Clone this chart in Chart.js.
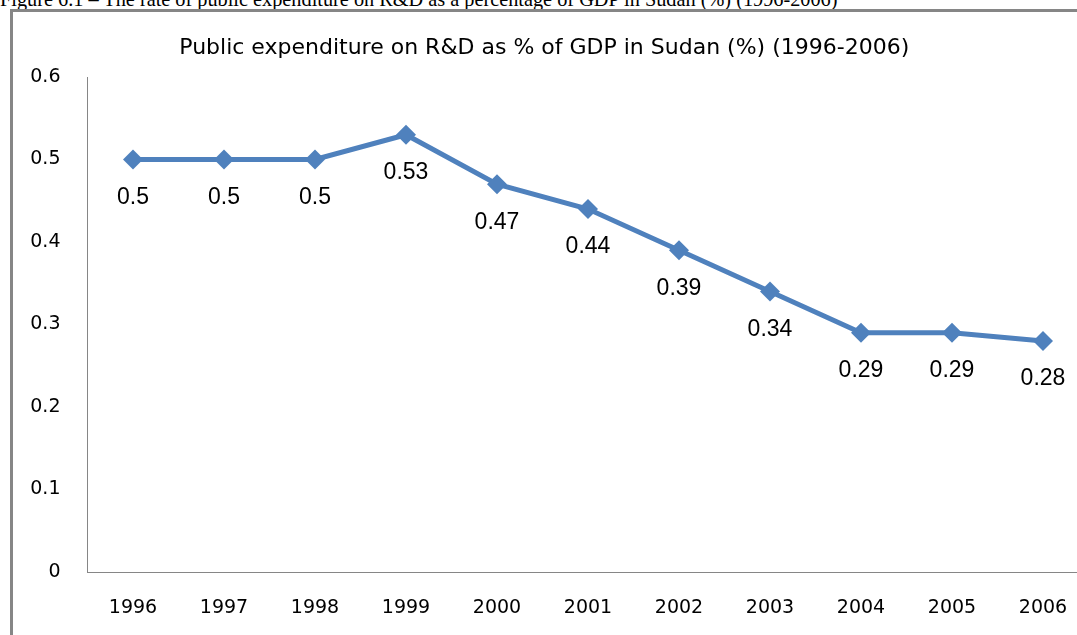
<!DOCTYPE html>
<html>
<head>
<meta charset="utf-8">
<script src="https://cdn.jsdelivr.net/npm/chart.js@4"></script>
<style>
  html, body { margin: 0; padding: 0; background: #fff; overflow: hidden; width: 1077px; height: 635px; }
  #caption { position: absolute; left: 0; top: -11px; font: 20.3px "Liberation Serif", "Times New Roman", serif; line-height: 20px; white-space: nowrap; color: #000; }
  #frame { position: absolute; left: 10px; top: 9px; width: 1200px; height: 800px; border: 3px solid #868686; }
  #wrap { position: absolute; left: 0; top: 0; width: 1100px; height: 635px; }
</style>
</head>
<body>
<div id="caption">Figure 6.1 – The rate of public expenditure on R&amp;D as a percentage of GDP in Sudan (%) (1996-2006)</div>
<div id="frame"></div>
<div id="wrap"><canvas id="chart" width="1100" height="635"></canvas></div>
<script>
// Gasto público en I+D como % del PIB en Sudán
var years = ['1996', '1997', '1998', '1999', '2000', '2001', '2002', '2003', '2004', '2005', '2006'];
var values = [0.5, 0.5, 0.5, 0.53, 0.47, 0.44, 0.39, 0.34, 0.29, 0.29, 0.28];
var yTicks = ['0', '0.1', '0.2', '0.3', '0.4', '0.5', '0.6'];

var tickFont = { family: '"DejaVu Sans", sans-serif', size: 19 };

// etiquetas de valor debajo de cada punto
var pointLabels = {
  id: 'pointLabels',
  afterDatasetsDraw: function(chart) {
    var ctx = chart.ctx;
    var meta = chart.getDatasetMeta(0);
    ctx.save();
    ctx.font = '23px "Liberation Sans", Arial, sans-serif';
    ctx.fillStyle = '#000';
    ctx.textAlign = 'center';
    ctx.textBaseline = 'middle';
    meta.data.forEach(function(pt, i) {
      ctx.fillText(String(values[i]), pt.x, pt.y + 38);
    });
    ctx.restore();
  }
};

document.addEventListener('DOMContentLoaded', function() {
  var ctx = document.getElementById('chart');
  new Chart(ctx, {
    type: 'line',
    data: {
      labels: years,
      datasets: [{
        data: values,
        borderColor: '#4F81BD',
        backgroundColor: '#4F81BD',
        borderWidth: 5,
        tension: 0,
        pointStyle: 'rectRot',
        pointRadius: 10,
        pointBorderWidth: 0
      }]
    },
    options: {
      responsive: false,
      animation: false,
      layout: { padding: { left: 0, right: 11.5, top: 0, bottom: 0 } },
      plugins: {
        legend: { display: false },
        tooltip: { enabled: false },
        title: {
          display: true,
          text: 'Public expenditure on R&D as % of GDP in Sudan (%) (1996-2006)',
          color: '#000',
          font: { family: '"DejaVu Sans", sans-serif', size: 22, weight: 'normal' },
          padding: { top: 35, bottom: 15.6 }
        }
      },
      scales: {
        x: {
          offset: true,
          grid: { display: false, drawTicks: false },
          border: { display: true, color: '#868686', width: 1 },
          ticks: { color: '#000', font: tickFont, padding: 25, maxRotation: 0 },
          afterFit: function(scale) { scale.height = 63; }
        },
        y: {
          min: 0,
          max: 0.6,
          grid: { display: false, drawTicks: false },
          border: { display: true, color: '#868686', width: 1 },
          ticks: {
            color: '#000',
            font: tickFont,
            padding: 27,
            stepSize: 0.1,
            callback: function(v, i) { return yTicks[i]; }
          },
          afterFit: function(scale) { scale.width = 87.5; }
        }
      }
    },
    plugins: [pointLabels]
  });
});
</script>
</body>
</html>
